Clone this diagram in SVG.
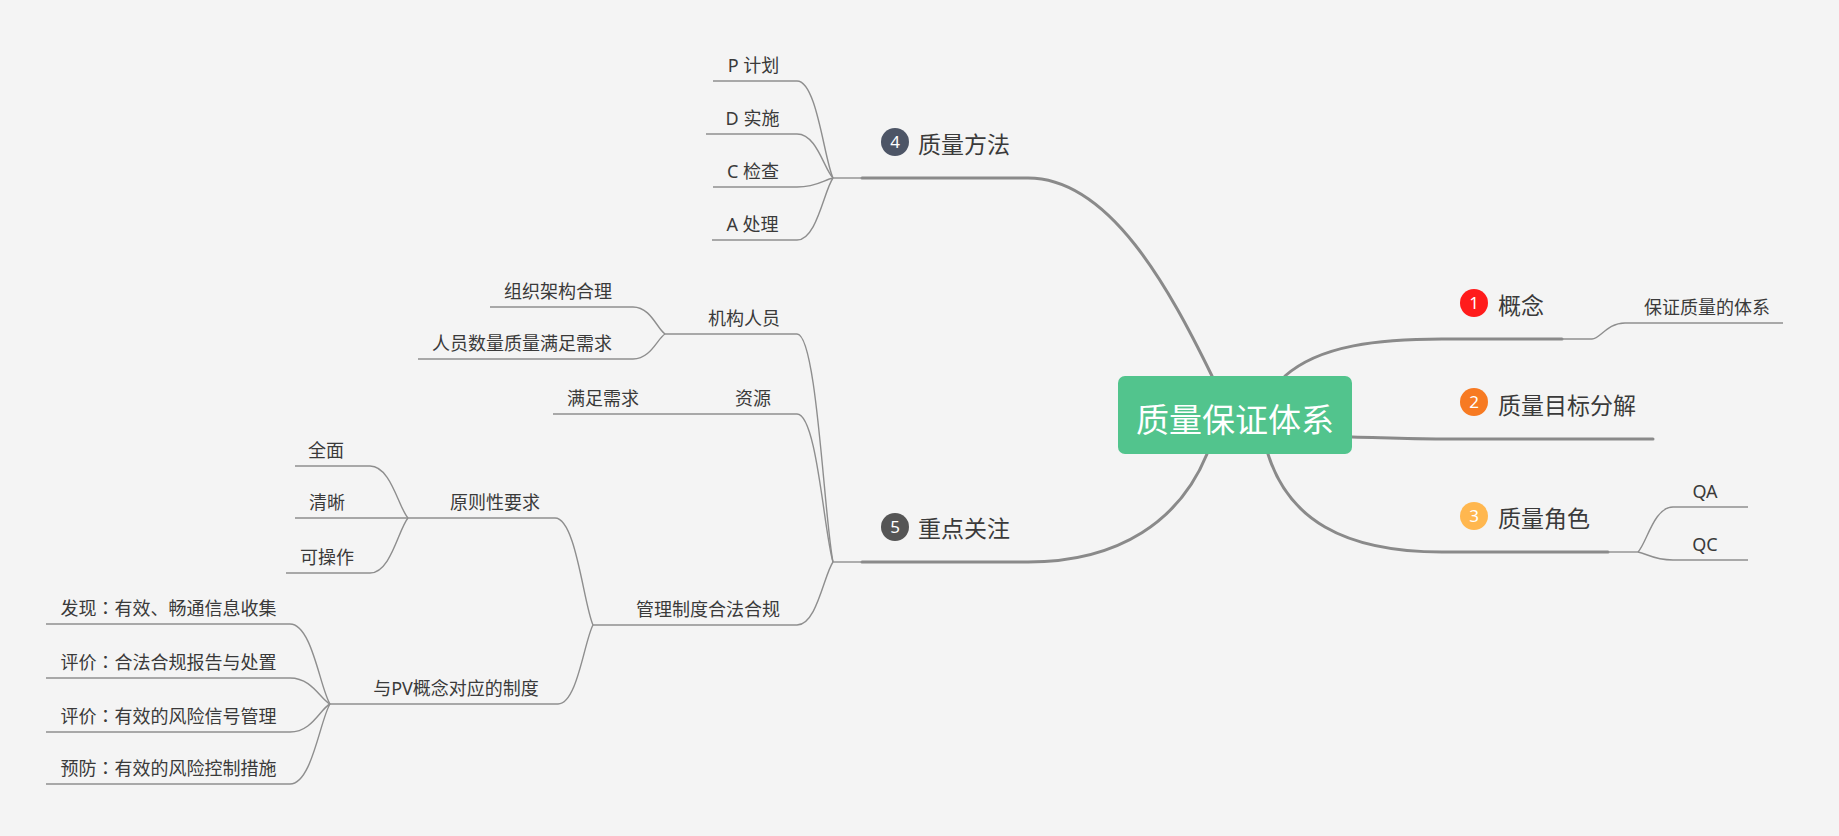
<svg xmlns="http://www.w3.org/2000/svg" width="1839" height="836" viewBox="0 0 1839 836">
<style>
text{font-family:"Noto Sans","Noto Sans CJK SC",sans-serif;fill:#3a3a3a}
.sub{font-size:18px;text-anchor:middle}
.main{font-size:23px}
.num{font-size:17px;fill:#fff;text-anchor:middle}
.colon{font-family:"Noto Sans CJK TC","Noto Sans CJK SC",sans-serif}
.thick{fill:none;stroke:#8a8a8a;stroke-width:3;stroke-linecap:round}
.thin{fill:none;stroke:#8e8e8e;stroke-width:1.4}
</style>
<rect width="1839" height="836" fill="#f4f4f4"/>
<g id="connectors">
<path class="thick" d="M862,178 H1028 C1110,178 1170,290 1212,376"/>
<path class="thick" d="M862,562 H1028 C1120,562 1180,520 1207,454"/>
<path class="thick" d="M1285,376 C1320,345 1380,339 1442,339 H1562"/>
<path class="thick" d="M1352,437 C1390,438 1410,439 1442,439 H1653"/>
<path class="thick" d="M1268,454 C1288,518 1342,552 1442,552 H1608"/>
<path class="thin" d="M833,178 H862"/>
<path class="thin" d="M713,81 H797 C816.8,81 824,158.6 833,178"/>
<path class="thin" d="M706,134 H797 C816.8,134 824,169.2 833,178"/>
<path class="thin" d="M713,187 H797 C816.8,187 824,179.8 833,178"/>
<path class="thin" d="M712,240 H797 C816.8,240 824,190.4 833,178"/>
<path class="thin" d="M833,562 H862"/>
<path class="thin" d="M665,334 H797 C816.8,334 824,516.4 833,562"/>
<path class="thin" d="M553,414 H797 C816.8,414 824,532.4 833,562"/>
<path class="thin" d="M593,625 H797 C816.8,625 824,574.6 833,562"/>
<path class="thin" d="M490,307 H633 C650.6,307 657,328.6 665,334"/>
<path class="thin" d="M418,359 H633 C650.6,359 657,339 665,334"/>
<path class="thin" d="M408,518 H555 C575.9,518 583.5,603.6 593,625"/>
<path class="thin" d="M330,704 H558 C577.3,704 584.3,640.8 593,625"/>
<path class="thin" d="M295,466 H370 C390.9,466 398.5,507.6 408,518"/>
<path class="thin" d="M295,518 H408"/>
<path class="thin" d="M286,573 H370 C390.9,573 398.5,529 408,518"/>
<path class="thin" d="M46,624 H290 C312,624 320,688 330,704"/>
<path class="thin" d="M46,678 H290 C312,678 320,699 330,704"/>
<path class="thin" d="M46,732 H290 C312,732 320,709 330,704"/>
<path class="thin" d="M46,784 H290 C312,784 320,720 330,704"/>
<path class="thin" d="M1562,339 H1592 C1600.3,339 1606.9,323 1625,323 H1783"/>
<path class="thin" d="M1608,552 H1638"/>
<path class="thin" d="M1638,552 C1646.8,543 1653.8,507 1673,507 H1748"/>
<path class="thin" d="M1638,552 C1646.8,553.6 1653.8,560 1673,560 H1748"/>
</g>
<g id="root">
<rect x="1118" y="376" width="234" height="78" rx="7" fill="#52c48d"/>
<text x="1235" y="432" font-size="33" text-anchor="middle" style="fill:#fff">质量保证体系</text>
</g>
<g id="b1">
<circle cx="1474" cy="303" r="14" fill="#ff1b1b"/>
<text class="num" x="1474" y="309">1</text>
<text class="main" x="1498" y="314">概念</text>
</g>
<g id="b1-1"><text class="sub" x="1707" y="314">保证质量的体系</text></g>
<g id="b2">
<circle cx="1474" cy="402" r="14" fill="#f77a22"/>
<text class="num" x="1474" y="408">2</text>
<text class="main" x="1498" y="414">质量目标分解</text>
</g>
<g id="b3">
<circle cx="1474" cy="516" r="14" fill="#ffb74f"/>
<text class="num" x="1474" y="522">3</text>
<text class="main" x="1498" y="527">质量角色</text>
</g>
<g id="b3-1"><text class="sub" x="1705" y="498">QA</text></g>
<g id="b3-2"><text class="sub" x="1705" y="551">QC</text></g>
<g id="b4">
<circle cx="895" cy="142" r="14" fill="#4d5566"/>
<text class="num" x="895" y="148">4</text>
<text class="main" x="918" y="153">质量方法</text>
</g>
<g id="b4-1"><text class="sub" x="753.5" y="72">P 计划</text></g>
<g id="b4-2"><text class="sub" x="752.5" y="125">D 实施</text></g>
<g id="b4-3"><text class="sub" x="753" y="178">C 检查</text></g>
<g id="b4-4"><text class="sub" x="752.5" y="231">A 处理</text></g>
<g id="b5">
<circle cx="895" cy="527" r="14" fill="#555555"/>
<text class="num" x="895" y="533">5</text>
<text class="main" x="918" y="537">重点关注</text>
</g>
<g id="b5-1"><text class="sub" x="744" y="325">机构人员</text></g>
<g id="b5-1-1"><text class="sub" x="558" y="298">组织架构合理</text></g>
<g id="b5-1-2"><text class="sub" x="522" y="350">人员数量质量满足需求</text></g>
<g id="b5-2"><text class="sub" x="753" y="405">资源</text></g>
<g id="b5-2-1"><text class="sub" x="603" y="405">满足需求</text></g>
<g id="b5-3"><text class="sub" x="708" y="616">管理制度合法合规</text></g>
<g id="b5-3-1"><text class="sub" x="495" y="509">原则性要求</text></g>
<g id="b5-3-1-1"><text class="sub" x="326" y="457">全面</text></g>
<g id="b5-3-1-2"><text class="sub" x="327" y="509">清晰</text></g>
<g id="b5-3-1-3"><text class="sub" x="327" y="564">可操作</text></g>
<g id="b5-3-2"><text class="sub" x="456" y="695">与PV概念对应的制度</text></g>
<g id="b5-3-2-1"><text class="sub" x="168.5" y="615">发现<tspan class="colon">：</tspan>有效、畅通信息收集</text></g>
<g id="b5-3-2-2"><text class="sub" x="168.5" y="669">评价<tspan class="colon">：</tspan>合法合规报告与处置</text></g>
<g id="b5-3-2-3"><text class="sub" x="168.5" y="723">评价<tspan class="colon">：</tspan>有效的风险信号管理</text></g>
<g id="b5-3-2-4"><text class="sub" x="168.5" y="775">预防<tspan class="colon">：</tspan>有效的风险控制措施</text></g>
</svg>
